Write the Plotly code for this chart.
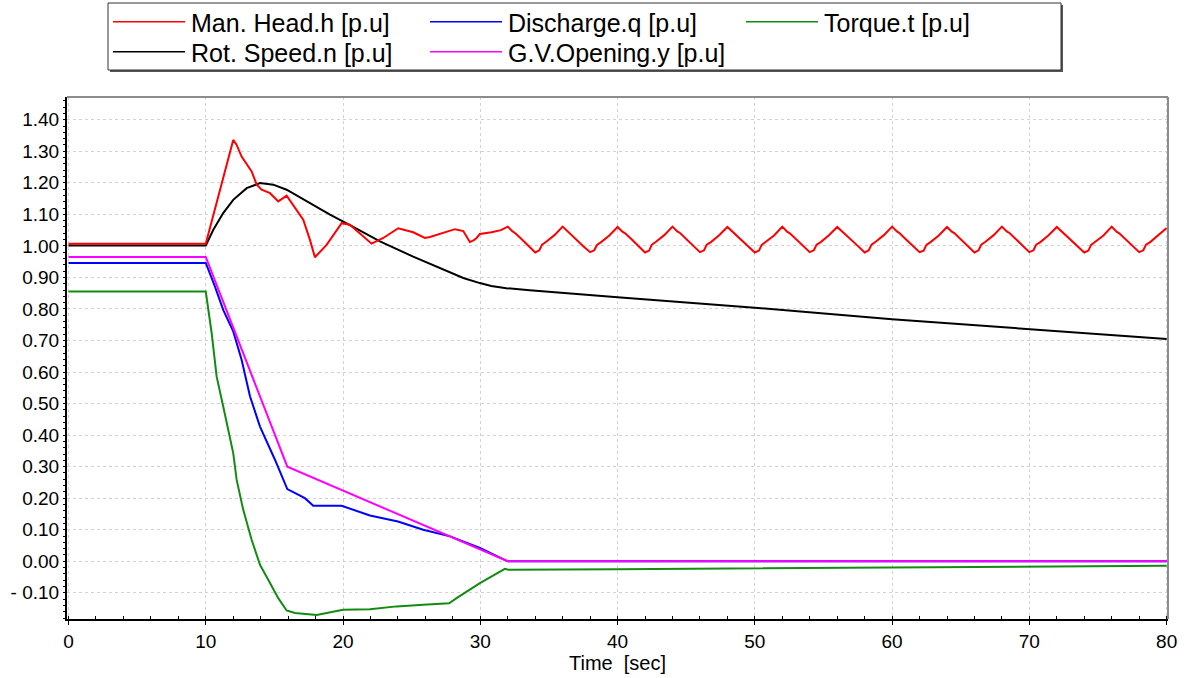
import plotly.graph_objects as go

# ---------------- data ----------------
head_t = [0, 10, 12.0, 12.25, 12.61, 12.98, 13.34, 13.71, 14.07, 14.68, 15.28, 15.89, 16.37, 17.1, 17.59, 17.95,
          18.8, 19.41, 19.9, 20.5, 21.35, 22.08, 22.93, 24.02, 25.11, 25.96, 26.33, 27.3, 28.15, 28.76, 29.12,
          29.24, 29.5, 29.73, 29.97, 30.82, 31.5, 32.0,
          32.35, 32.55, 33.0, 33.5, 34.0, 34.3, 34.5, 34.8, 35.4, 36.0,
          36.35, 36.55, 37.0, 37.5, 38.0, 38.3, 38.5, 38.8, 39.4, 40.0,
          40.35, 40.55, 41.0, 41.5, 42.0, 42.3, 42.5, 42.8, 43.4, 44.0,
          44.35, 44.55, 45.0, 45.5, 46.0, 46.3, 46.5, 46.8, 47.4, 48.0,
          48.35, 48.55, 49.0, 49.5, 50.0, 50.3, 50.5, 50.8, 51.4, 52.0,
          52.35, 52.55, 53.0, 53.5, 54.0, 54.3, 54.5, 54.8, 55.4, 56.0,
          56.35, 56.55, 57.0, 57.5, 58.0, 58.3, 58.5, 58.8, 59.4, 60.0,
          60.35, 60.55, 61.0, 61.5, 62.0, 62.3, 62.5, 62.8, 63.4, 64.0,
          64.35, 64.55, 65.0, 65.5, 66.0, 66.3, 66.5, 66.8, 67.4, 68.0,
          68.35, 68.55, 69.0, 69.5, 70.0, 70.3, 70.5, 70.8, 71.4, 72.0,
          72.35, 72.55, 73.0, 73.5, 74.0, 74.3, 74.5, 74.8, 75.4, 76.0,
          76.35, 76.55, 77.0, 77.5, 78.0, 78.3, 78.5, 78.8, 79.4, 80.0]
head_v = [1.007, 1.007, 1.336, 1.320, 1.283, 1.257, 1.236, 1.194, 1.178, 1.167, 1.141, 1.159, 1.130, 1.083, 1.019, 0.964,
          1.003, 1.041, 1.072, 1.067, 1.035, 1.007, 1.025, 1.056, 1.043, 1.025, 1.028, 1.041, 1.053, 1.047, 1.019,
          1.012, 1.017, 1.025, 1.038, 1.043, 1.050, 1.061,
          1.046, 1.040, 1.022, 1.000, 0.979, 0.986, 1.004, 1.013, 1.034, 1.061,
          1.046, 1.040, 1.021, 0.999, 0.980, 0.986, 1.003, 1.012, 1.033, 1.060,
          1.045, 1.040, 1.022, 1.000, 0.979, 0.985, 1.004, 1.013, 1.034, 1.061,
          1.046, 1.041, 1.022, 1.000, 0.980, 0.986, 1.004, 1.012, 1.034, 1.060,
          1.046, 1.040, 1.021, 0.999, 0.979, 0.985, 1.003, 1.013, 1.033, 1.061,
          1.045, 1.040, 1.022, 1.000, 0.980, 0.986, 1.004, 1.012, 1.034, 1.060,
          1.046, 1.041, 1.022, 1.000, 0.979, 0.986, 1.004, 1.013, 1.034, 1.061,
          1.046, 1.040, 1.021, 0.999, 0.980, 0.985, 1.003, 1.012, 1.033, 1.060,
          1.045, 1.040, 1.022, 1.000, 0.979, 0.986, 1.004, 1.013, 1.034, 1.061,
          1.046, 1.041, 1.022, 1.000, 0.980, 0.986, 1.004, 1.012, 1.034, 1.060,
          1.046, 1.040, 1.021, 0.999, 0.979, 0.985, 1.003, 1.013, 1.033, 1.061,
          1.045, 1.040, 1.022, 1.000, 0.980, 0.986, 1.004, 1.012, 1.034, 1.057]

speed_t = [0, 10, 10.55, 11.27, 12.0, 12.98, 13.95, 14.92, 15.89, 17.35, 19.05, 20.74, 22.69, 25.11, 27.55,
           28.76, 29.97, 30.8, 31.9, 33.6, 40, 50, 60, 70, 80]
speed_v = [1.001, 1.001, 1.051, 1.104, 1.146, 1.183, 1.199, 1.194, 1.178, 1.141, 1.099, 1.060, 1.014, 0.966, 0.922,
           0.898, 0.882, 0.873, 0.866, 0.859, 0.837, 0.804, 0.767, 0.735, 0.705]

discharge_t = [0, 10, 10.67, 11.27, 12.0, 12.61, 13.22, 13.95, 15.04, 15.94, 17.22, 17.83, 19.9, 21.96, 24.0,
               25.84, 27.8, 29.97, 32.0, 80]
discharge_v = [0.946, 0.946, 0.871, 0.797, 0.729, 0.639, 0.523, 0.427, 0.322, 0.229, 0.200, 0.176, 0.176, 0.145,
               0.126, 0.100, 0.079, 0.042, 0.0, 0.0]

opening_t = [0, 10, 15.94, 32.0, 80]
opening_v = [0.965, 0.965, 0.300, 0.0, 0.0]

torque_t = [0, 10, 10.43, 10.79, 11.27, 11.76, 12.0, 12.25, 12.73, 13.34, 13.95, 14.68, 15.28, 15.89, 16.5,
            18.08, 20.0, 21.96, 23.9, 25.84, 27.73, 28.27, 29.97, 31.79, 32.03, 40, 50, 60, 70, 80]
torque_v = [0.855, 0.855, 0.723, 0.586, 0.491, 0.385, 0.343, 0.258, 0.163, 0.068, -0.011, -0.069, -0.117, -0.156,
            -0.164, -0.170, -0.154, -0.152, -0.143, -0.138, -0.133, -0.117, -0.069, -0.024, -0.027, -0.025,
            -0.022, -0.019, -0.017, -0.014]

y_ticks = [-0.1, 0.0, 0.1, 0.2, 0.3, 0.4, 0.5, 0.6, 0.7, 0.8, 0.9, 1.0, 1.1, 1.2, 1.3, 1.4]
y_ticktext = ["- 0.10", "0.00", "0.10", "0.20", "0.30", "0.40", "0.50", "0.60", "0.70", "0.80", "0.90",
              "1.00", "1.10", "1.20", "1.30", "1.40"]
x_ticks = [0, 10, 20, 30, 40, 50, 60, 70, 80]

series = [
    ("Discharge.q [p.u]", discharge_t, discharge_v, "#0000ff"),
    ("Torque.t [p.u]", torque_t, torque_v, "#118c11"),
    ("G.V.Opening.y [p.u]", opening_t, opening_v, "#ff00ff"),
    ("Rot. Speed.n [p.u]", speed_t, speed_v, "#000000"),
    ("Man. Head.h [p.u]", head_t, head_v, "#ff0000"),
]

# ---------------- layout geometry ----------------
W, H = 1188, 678
ML, MR, MT, MB = 67, 20, 97, 59
PW, PH = W - ML - MR, H - MT - MB
FONT = "Liberation Sans, Arial, sans-serif"


def px(xp):
    return (xp - ML) / PW


def py(yp):
    return (H - MB - yp) / PH


fig = go.Figure()
for name, t, v, c in series:
    fig.add_trace(go.Scatter(x=t, y=v, mode="lines", name=name, showlegend=False,
                             line=dict(color=c, width=2)))

shapes = [
    # plot frame top / right (gray)
    dict(type="line", xref="paper", yref="paper", x0=0, x1=1, y0=1, y1=1, line=dict(color="#8c8c8c", width=2)),
    dict(type="line", xref="paper", yref="paper", x0=1, x1=1, y0=0, y1=1, line=dict(color="#8c8c8c", width=2)),
    # legend shadow + box
    dict(type="rect", xref="paper", yref="paper", x0=px(110), x1=px(1063), y0=py(72), y1=py(5),
         fillcolor="#555555", line=dict(width=0)),
    dict(type="rect", xref="paper", yref="paper", x0=px(108), x1=px(1061), y0=py(70), y1=py(3),
         fillcolor="white", line=dict(color="#333333", width=1)),
]

legend_items = [
    ("Man. Head.h [p.u]", "#ff0000", 113, 21.7),
    ("Discharge.q [p.u]", "#0000ff", 430, 21.7),
    ("Torque.t [p.u]", "#118c11", 746, 21.7),
    ("Rot. Speed.n [p.u]", "#000000", 113, 51.7),
    ("G.V.Opening.y [p.u]", "#ff00ff", 430, 51.7),
]
annotations = []
for label, col, x0, yc in legend_items:
    shapes.append(dict(type="line", xref="paper", yref="paper", x0=px(x0), x1=px(x0 + 72), y0=py(yc), y1=py(yc),
                       line=dict(color=col, width=1.5)))
    annotations.append(dict(text=label, xref="paper", yref="paper", x=px(x0 + 76), y=py(yc + 1),
                            xanchor="left", yanchor="middle", showarrow=False,
                            font=dict(family=FONT, size=25, color="black")))

fig.update_layout(
    width=W, height=H,
    margin=dict(l=ML, r=MR, t=MT, b=MB, pad=0, autoexpand=False),
    paper_bgcolor="white", plot_bgcolor="white",
    showlegend=False,
    shapes=shapes, annotations=annotations,
    font=dict(family=FONT, size=19, color="black"),
    xaxis=dict(
        range=[-0.11, 80.1], tickmode="array", tickvals=x_ticks, automargin=False,
        ticks="outside", ticklen=4, tickwidth=1, tickcolor="black",
        showline=True, linecolor="black", linewidth=2,
        showgrid=True, gridcolor="#d2d2d2", griddash="3px,3px", gridwidth=1,
        zeroline=False,
        tickfont=dict(family=FONT, size=19, color="black"),
        title=dict(text="Time\u00a0 [sec]", font=dict(family=FONT, size=20, color="black"), standoff=2),
        minor=dict(dtick=2, ticks="inside", ticklen=3, tickcolor="black", showgrid=False),
    ),
    yaxis=dict(
        range=[-0.183, 1.472], tickmode="array", tickvals=y_ticks, ticktext=y_ticktext, automargin=False,
        ticks="outside", ticklen=2, tickwidth=1, tickcolor="black",
        showline=True, linecolor="black", linewidth=2,
        showgrid=True, gridcolor="#d2d2d2", griddash="3px,3px", gridwidth=1,
        zeroline=False,
        tickfont=dict(family=FONT, size=19, color="black"),
        minor=dict(dtick=0.02, tick0=0, ticks="outside", ticklen=2, tickcolor="black", showgrid=False),
    ),
)

fig.write_html("out.html", config={"displayModeBar": False})

# remove the browser's default page margin so the figure sits at the window's top-left corner
with open("out.html", "r", encoding="utf-8") as f:
    html = f.read()
html = html.replace("<body>", '<body style="margin:0;padding:0;overflow:hidden">', 1)
with open("out.html", "w", encoding="utf-8") as f:
    f.write(html)
